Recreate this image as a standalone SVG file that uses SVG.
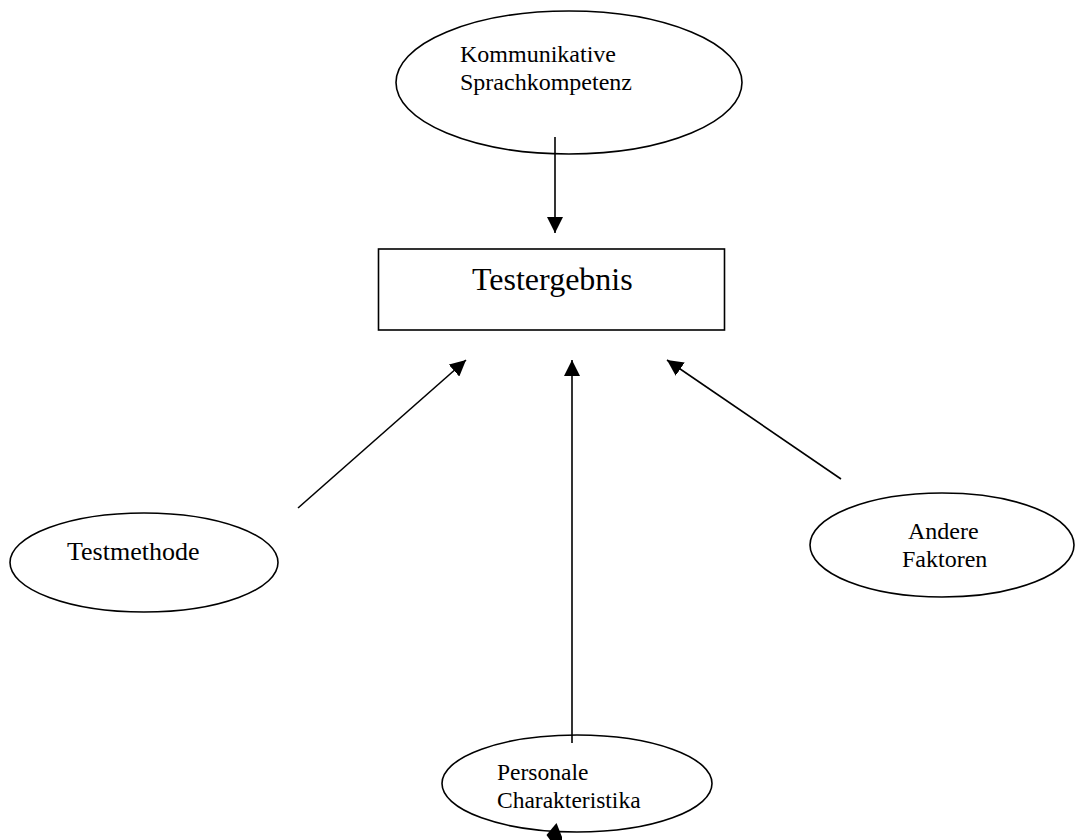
<svg xmlns="http://www.w3.org/2000/svg" width="1075" height="840" viewBox="0 0 1075 840">
<defs>
<style>
.n{fill:#fff;stroke:#000;stroke-width:1.6}
.t{font-family:"Liberation Serif","Times New Roman",serif;fill:#000}
.c{stroke:#000;stroke-width:1.6;fill:none}
</style>
<marker id="ah" markerUnits="userSpaceOnUse" markerWidth="18" markerHeight="16" refX="16" refY="8" orient="auto">
<path d="M0,0 L16,8 L0,16 Z" fill="#000"/>
</marker>
</defs>
<rect width="1075" height="840" fill="#fff"/>
<g id="kommunikative">
<ellipse class="n" cx="569" cy="82.5" rx="173" ry="71.5"/>
<text class="t" x="460" y="62" font-size="24">Kommunikative</text>
<text class="t" x="460" y="90" font-size="24">Sprachkompetenz</text>
</g>
<g id="testergebnis">
<rect class="n" x="378.5" y="249" width="346" height="81"/>
<text class="t" x="472" y="290" font-size="32">Testergebnis</text>
</g>
<g id="testmethode">
<ellipse class="n" cx="144" cy="562.5" rx="134" ry="49.5"/>
<text class="t" x="67" y="560" font-size="26">Testmethode</text>
</g>
<g id="andere">
<ellipse class="n" cx="942" cy="545" rx="132" ry="52"/>
<text class="t" x="908" y="539" font-size="24">Andere</text>
<text class="t" x="902" y="567" font-size="24">Faktoren</text>
</g>
<g id="personale">
<ellipse class="n" cx="577" cy="783.5" rx="135" ry="48.5"/>
<text class="t" x="497" y="780" font-size="23.5">Personale</text>
<text class="t" x="497" y="808" font-size="23.5">Charakteristika</text>
</g>
<g id="connectors">
<line class="c" x1="555" y1="137" x2="555" y2="233" marker-end="url(#ah)"/>
<line class="c" x1="298" y1="508" x2="466" y2="360" marker-end="url(#ah)"/>
<line class="c" x1="572" y1="743" x2="572" y2="360" marker-end="url(#ah)"/>
<line class="c" x1="841" y1="479" x2="667" y2="360" marker-end="url(#ah)"/>
<polygon points="546.5,835 556.5,823 562,837 562,840 550,840" fill="#000"/>
</g>
</svg>
